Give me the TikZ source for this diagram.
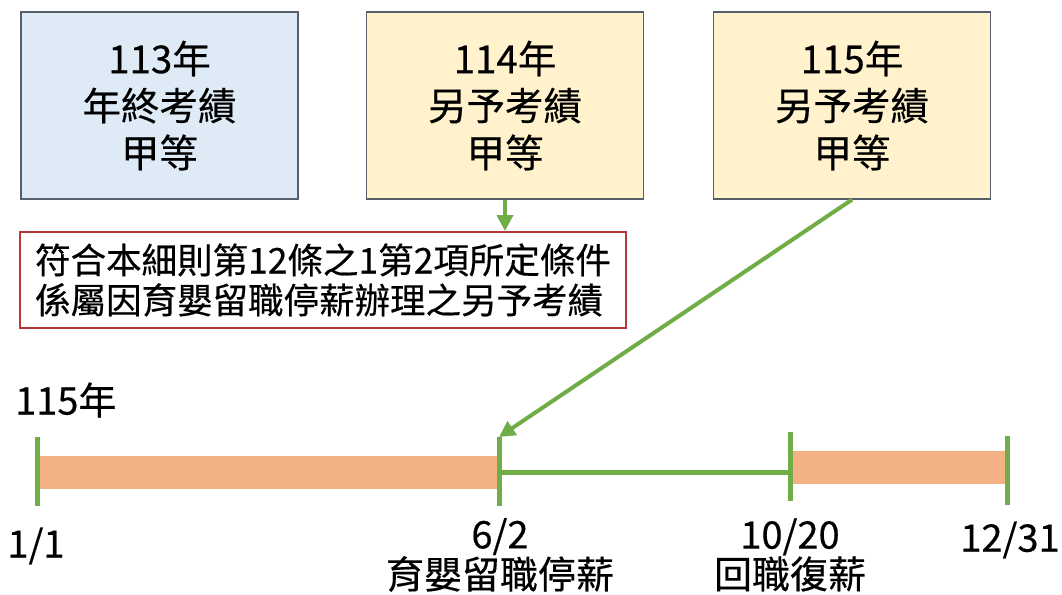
\documentclass[tikz,border=0pt]{standalone}
\usepackage{fontspec}
\newfontfamily\cjk{Noto Sans CJK TC}[FakeBold=0.4]
\usetikzlibrary{arrows.meta}
\usetikzlibrary{positioning}
\definecolor{boxblue}{HTML}{DEEBF7}
\definecolor{boxyellow}{HTML}{FFF2CC}
\definecolor{boxedge}{HTML}{56606B}
\definecolor{notered}{HTML}{B8373A}
\definecolor{linegreen}{HTML}{70AD47}
\definecolor{barorange}{HTML}{F4B183}
\tikzset{yearbox/.style = {draw = boxedge, line width = 1.2, minimum width = 277,
                           minimum height = 187, align = center,
                           font = \cjk\fontsize{38.5}{47}\selectfont}}
\tikzset{grnarrow/.style = {draw = linegreen, line width = 4,
                            -{Triangle[length = 16, width = 16]}}}
\tikzset{tick/.style = {draw = linegreen, line width = 5}}
\tikzset{bar/.style = {fill = barorange, draw = none}}
\tikzset{datelabel/.style = {align = center, inner sep = 0,
                             font = \cjk\fontsize{38}{36}\selectfont}}

\begin{document}
\begin{tikzpicture}[x = 1pt, y = -1pt]
      \useasboundingbox (0, 0) rectangle (1062, 594);

      \node [yearbox, fill = boxblue] (y113) at (159.5, 105.5) {113年\\年終考績\\甲等};
      \node [yearbox, fill = boxyellow] (y114) at (505, 105.5) {114年\\另予考績\\甲等};
      \node [yearbox, fill = boxyellow] (y115) at (852, 105.5) {115年\\另予考績\\甲等};

      \node [draw = notered, line width = 2, fill = white, minimum width = 606, minimum height = 96,
             inner sep = 0, align = left, font = \cjk\fontsize{35.5}{40}\selectfont] (note) at (323, 280)
            {符合本細則第12條之1第2項所定條件\\係屬因育嬰留職停薪辦理之另予考績};

      \draw [grnarrow] (y114.south) -- (y114.south |- note.north);

      % timeline
      \node [datelabel, anchor = west] (year) at (15, 400) {115年};
      \fill [bar] (37, 456) rectangle (499, 489);
      \fill [bar] (790, 451) rectangle (1007, 484);
      \draw [draw = linegreen, line width = 5] (499, 472) -- (790, 472);

      \coordinate (p1) at (37, 437);
      \coordinate (p2) at (499, 437);
      \coordinate (p3) at (790, 432);
      \coordinate (p4) at (1007, 436);
      \draw [tick] (p1) -- ++(0, 69);
      \draw [tick] (p2) -- ++(0, 69);
      \draw [tick] (p3) -- ++(0, 69);
      \draw [tick] (p4) -- ++(0, 69);

      \draw [grnarrow] (y115.south) -- (p2);

      \node [datelabel] (d1) at (36, 546) {1/1};
      \node [datelabel] (d2) at (500, 555) {6/2\\育嬰留職停薪};
      \node [datelabel] (d3) at (790, 555) {10/20\\回職復薪};
      \node [datelabel] (d4) at (1010, 540) {12/31};
\end{tikzpicture}
\end{document}
